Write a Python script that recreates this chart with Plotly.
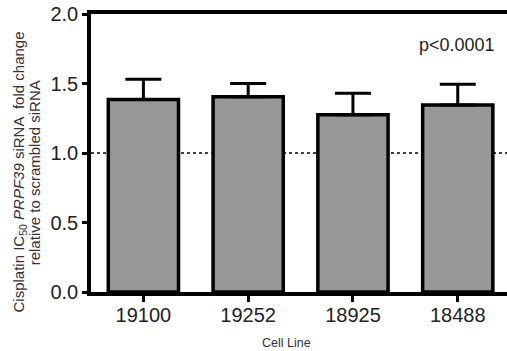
import plotly.graph_objects as go

cell_lines = ["19100", "19252", "18925", "18488"]
fold_change = [1.385, 1.405, 1.275, 1.345]
sem_upper = [0.145, 0.095, 0.155, 0.15]
y_ticks = [0.0, 0.5, 1.0, 1.5, 2.0]
y_tick_labels = ["0.0", "0.5", "1.0", "1.5", "2.0"]
reference_level = 1.0
p_label = "p<0.0001"
x_title = "Cell Line"
y_title_lines = ["Cisplatin IC<sub>50</sub> <i>PRPF39</i> siRNA  fold change",
                 "relative to scrambled siRNA"]

FONT = "Liberation Sans, Arial, sans-serif"

fig = go.Figure()
fig.add_trace(go.Bar(
    x=cell_lines,
    y=fold_change,
    width=0.67,
    marker=dict(color="#979797", line=dict(color="black", width=3.5)),
    error_y=dict(type="data", symmetric=False, array=sem_upper,
                 arrayminus=[0] * len(sem_upper),
                 color="black", thickness=3, width=18),
    showlegend=False,
))

fig.add_shape(type="line", xref="paper", yref="y", x0=0, x1=1,
              y0=reference_level, y1=reference_level,
              line=dict(color="black", width=1.5, dash="dot"), layer="below")

fig.add_annotation(x=3.37, y=1.78, xref="x", yref="y", text=p_label,
                   showarrow=False, xanchor="right",
                   font=dict(family=FONT, size=18, color="#222"))

# axis titles as annotations for exact placement
fig.add_annotation(x=0.47, y=-0.183, xref="paper", yref="paper", text=x_title,
                   showarrow=False, xanchor="center", yanchor="middle",
                   font=dict(family=FONT, size=12.5, color="#333"))
fig.add_annotation(x=-0.173, y=0.43, xref="paper", yref="paper", text=y_title_lines[0],
                   showarrow=False, textangle=-90, xanchor="center", yanchor="middle",
                   font=dict(family=FONT, size=15, color="#333"))
fig.add_annotation(x=-0.135, y=0.43, xref="paper", yref="paper", text=y_title_lines[1],
                   showarrow=False, textangle=-90, xanchor="center", yanchor="middle",
                   font=dict(family=FONT, size=15, color="#333"))

fig.update_layout(
    width=507, height=351,
    margin=dict(l=91, r=0, t=14, b=59),
    plot_bgcolor="white", paper_bgcolor="white",
    font=dict(family=FONT, color="#222"),
    bargap=0.33,
)

fig.update_xaxes(
    range=[-0.5, 3.47], automargin=False,
    showline=True, linecolor="black", linewidth=3.5, mirror=True,
    ticks="outside", ticklen=6, tickwidth=3, tickcolor="black",
    tickfont=dict(size=20, color="#222"), ticklabeloverflow="allow",
    ticklabelstandoff=-4,
    showgrid=False, zeroline=False,
)

fig.update_yaxes(
    range=[0, 2.0], automargin=False,
    tickvals=y_ticks, ticktext=y_tick_labels,
    showline=True, linecolor="black", linewidth=3.5,
    ticks="outside", ticklen=5, tickwidth=3, tickcolor="black",
    tickfont=dict(size=20, color="#222"), ticklabeloverflow="allow",
    showgrid=False, zeroline=False,
)

# remove the browser's default 8px body margin so the figure fills the window
fig.write_html("out.html", config={"displayModeBar": False},
               post_script="document.body.style.margin='0';")
